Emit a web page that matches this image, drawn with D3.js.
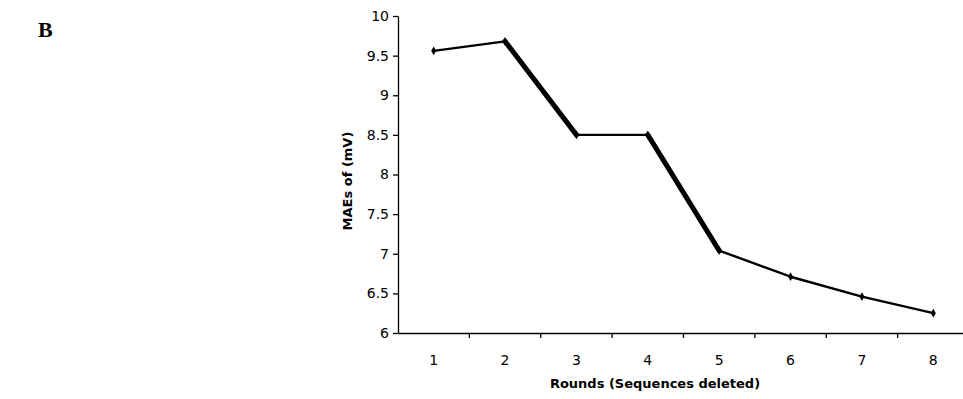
<!DOCTYPE html>
<html>
<head>
<meta charset="utf-8">
<script src="https://cdn.jsdelivr.net/npm/d3@7"></script>
<style>
  body { margin: 0; background: #fff; }
  svg { display: block; }
  .axis text { font-family: "DejaVu Sans", Verdana, sans-serif; font-size: 14px; fill: #000; }
  .axis path, .axis line { stroke: #000; stroke-width: 1.3; }
  .title { font-family: "DejaVu Sans", Verdana, sans-serif; font-size: 13px; font-weight: bold; }
</style>
</head>
<body>
<svg id="chart"></svg>
<script>
// data
var rounds = ["1", "2", "3", "4", "5", "6", "7", "8"];
var maes = [9.56, 9.68, 8.50, 8.50, 7.04, 6.71, 6.46, 6.25];
var yTicks = [6, 6.5, 7, 7.5, 8, 8.5, 9, 9.5, 10];

var width = 963,
    height = 399;

var svg = d3.select("#chart")
    .attr("width", width)
    .attr("height", height);

// panel letter
svg.append("text")
    .attr("x", 38)
    .attr("y", 37)
    .style("font-family", "'Liberation Serif', 'Times New Roman', serif")
    .style("font-size", "22px")
    .style("font-weight", "bold")
    .text("B");

var x = d3.scaleBand()
    .domain(rounds)
    .range([398, 969]);

var y = d3.scaleLinear()
    .domain([6, 10])
    .range([333, 16]);

// y axis
svg.append("g")
    .attr("class", "axis")
    .attr("transform", "translate(398,0)")
    .call(d3.axisLeft(y).tickValues(yTicks).tickSize(5).tickPadding(4).tickSizeOuter(0).tickFormat(d3.format("")));

// x axis - labels only, ticks go between the categories
var xAxis = svg.append("g")
    .attr("class", "axis")
    .attr("transform", "translate(0,333)")
    .call(d3.axisBottom(x).tickSize(0).tickPadding(22).tickSizeOuter(0));

xAxis.selectAll(".boundary")
    .data(rounds.slice(1))
  .enter().append("line")
    .attr("class", "boundary")
    .attr("x1", function(d) { return x(d); })
    .attr("x2", function(d) { return x(d); })
    .attr("y1", 0)
    .attr("y2", 5);

xAxis.select(".domain").attr("stroke-width", 2);

// line, drawn one segment at a time since the steep drops are heavier
var thick = [1, 3];
var pts = rounds.map(function(d, i) { return [x(d) + x.bandwidth() / 2, y(maes[i])]; });

svg.selectAll(".seg")
    .data(pts.slice(1))
  .enter().append("line")
    .attr("class", "seg")
    .attr("x1", function(d, i) { return pts[i][0]; })
    .attr("y1", function(d, i) { return pts[i][1]; })
    .attr("x2", function(d) { return d[0]; })
    .attr("y2", function(d) { return d[1]; })
    .attr("stroke", "#000")
    .attr("stroke-linecap", "round")
    .attr("stroke-width", function(d, i) { return thick.indexOf(i) >= 0 ? 5 : 2.4; });

svg.selectAll(".marker")
    .data(pts)
  .enter().append("path")
    .attr("class", "marker")
    .attr("transform", function(d) { return "translate(" + d[0] + "," + d[1] + ")"; })
    .attr("d", d3.symbol().type(d3.symbolDiamond).size(22))
    .attr("fill", "#000");

// axis titles
svg.append("text")
    .attr("class", "title")
    .attr("transform", "translate(352,181) rotate(-90)")
    .attr("text-anchor", "middle")
    .text("MAEs of (mV)");

svg.append("text")
    .attr("class", "title")
    .attr("x", 655)
    .attr("y", 388)
    .attr("text-anchor", "middle")
    .text("Rounds (Sequences deleted)");
</script>
</body>
</html>
